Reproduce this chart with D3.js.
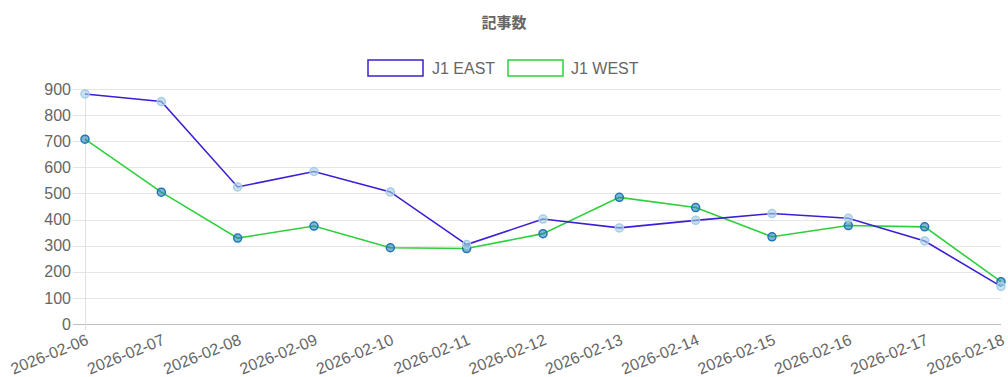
<!DOCTYPE html>
<html>
<head>
<meta charset="utf-8">
<script src="https://cdn.jsdelivr.net/npm/d3@7"></script>
<style>
  body { margin: 0; background: #fff; }
  svg { display: block; font-family: "Liberation Sans", Arial, sans-serif; }
</style>
</head>
<body>
<div class="canvas-chart"></div>
<script>
const title = '記事数';
const dates = ['2026-02-06', '2026-02-07', '2026-02-08', '2026-02-09', '2026-02-10', '2026-02-11',
  '2026-02-12', '2026-02-13', '2026-02-14', '2026-02-15', '2026-02-16', '2026-02-17', '2026-02-18'];
const eastValues = [881, 852, 525, 584, 506, 304, 402, 368, 397, 423, 405, 318, 144];
const westValues = [708, 505, 329, 375, 292, 289, 346, 485, 446, 334, 377, 372, 162];
const yTicks = [0, 100, 200, 300, 400, 500, 600, 700, 800, 900];

const series = [
  { name: 'J1 EAST', values: eastValues, line: '#3b1fd6', pointFill: 'rgba(166,206,227,0.6)', pointStroke: '#a6cee3' },
  { name: 'J1 WEST', values: westValues, line: '#2ecf3c', pointFill: 'rgba(31,120,180,0.55)', pointStroke: '#1f78b4' }
];

const width = 1008, height = 377;
const margin = { top: 89, right: 7, bottom: 53, left: 85 };
const graphWidth = width - margin.left - margin.right;
const graphHeight = height - margin.top - margin.bottom;

const svg = d3.select('.canvas-chart').append('svg')
  .attr('width', width)
  .attr('height', height);

// title
svg.append('text')
  .attr('x', width / 2)
  .attr('y', 28)
  .attr('text-anchor', 'middle')
  .attr('font-family', '"Noto Sans CJK JP", sans-serif')
  .attr('font-size', '15px')
  .attr('font-weight', 'bold')
  .attr('fill', '#666')
  .text(title);

// legend
const legendItems = [{ x: 368, tx: 432 }, { x: 508, tx: 571 }];
series.forEach((s, i) => {
  svg.append('rect')
    .attr('x', legendItems[i].x)
    .attr('y', 60)
    .attr('width', 55)
    .attr('height', 16)
    .attr('fill', 'none')
    .attr('stroke', s.line)
    .attr('stroke-width', 1.5);
  svg.append('text')
    .attr('x', legendItems[i].tx)
    .attr('y', 74)
    .attr('font-size', '16px')
    .attr('fill', '#666')
    .text(s.name);
});

const graph = svg.append('g')
  .attr('transform', `translate(${margin.left}, ${margin.top})`);

// scales
const x = d3.scalePoint()
  .domain(dates)
  .range([0, graphWidth]);

const y = d3.scaleLinear()
  .domain([0, 900])
  .range([graphHeight, 0]);

// grid lines
graph.append('g')
  .selectAll('line')
  .data(yTicks)
  .enter()
  .append('line')
  .attr('x1', -12)
  .attr('x2', graphWidth)
  .attr('y1', d => Math.round(y(d)) + 0.5)
  .attr('y2', d => Math.round(y(d)) + 0.5)
  .attr('stroke', d => d === 0 ? '#bdbdbd' : '#e5e5e5')
  .attr('stroke-width', 1);

graph.append('line')
  .attr('x1', 0.5).attr('x2', 0.5)
  .attr('y1', 0).attr('y2', graphHeight + 6)
  .attr('stroke', '#e0e0e0');

// y axis labels
const yAxis = d3.axisLeft(y).tickValues(yTicks).tickSize(0).tickPadding(14);
graph.append('g')
  .call(yAxis)
  .call(g => g.select('.domain').remove())
  .call(g => g.selectAll('text')
    .attr('font-size', '16px')
    .attr('font-family', '"Liberation Sans", Arial, sans-serif')
    .attr('fill', '#666'));

// x axis labels
const xAxis = d3.axisBottom(x).tickSize(0).tickPadding(0);
graph.append('g')
  .attr('transform', `translate(0, ${graphHeight})`)
  .call(xAxis)
  .call(g => g.select('.domain').remove())
  .call(g => g.selectAll('text')
    .attr('font-size', '16px')
    .attr('font-family', '"Liberation Sans", Arial, sans-serif')
    .attr('fill', '#666')
    .attr('text-anchor', 'end')
    .attr('dy', 0)
    .attr('transform', 'translate(4, 20) rotate(-22)'));

// lines and points, WEST drawn first so EAST ends on top
const line = d3.line()
  .x((d, i) => x(dates[i]))
  .y(d => y(d));

series.slice().reverse().forEach(s => {
  graph.append('path')
    .datum(s.values)
    .attr('fill', 'none')
    .attr('stroke', s.line)
    .attr('stroke-width', 1.6)
    .attr('d', line);
});

series.slice().reverse().forEach(s => {
  graph.append('g')
    .selectAll('circle')
    .data(s.values)
    .enter()
    .append('circle')
    .attr('cx', (d, i) => x(dates[i]))
    .attr('cy', d => y(d))
    .attr('r', 4)
    .attr('fill', s.pointFill)
    .attr('stroke', s.pointStroke)
    .attr('stroke-width', 1.5);
});
</script>
</body>
</html>
